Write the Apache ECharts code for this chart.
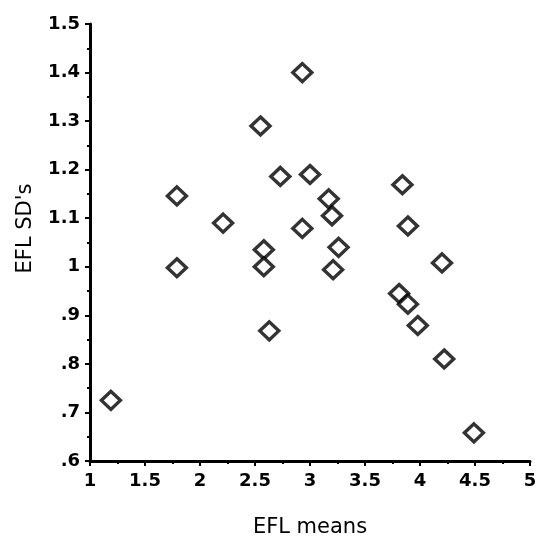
<!DOCTYPE html>
<html>
<head>
<meta charset="utf-8">
<script src="https://cdn.jsdelivr.net/npm/echarts@6/dist/echarts.min.js"></script>
<style>
  html, body { margin: 0; padding: 0; background: #fff; }
  #chart { width: 539px; height: 539px; }
</style>
</head>
<body>
<div id="chart"></div>
<script>
// EFL means (x) against EFL standard deviations (y)
const eflMeans = [1.19, 1.79, 1.79, 2.21, 2.55, 2.58, 2.58, 2.63, 2.73, 2.93, 2.93, 3.00,
                  3.17, 3.20, 3.26, 3.21, 3.84, 3.89, 3.81, 3.89, 3.98, 4.20, 4.22, 4.49];
const eflSDs   = [0.725, 1.146, 0.998, 1.090, 1.290, 1.035, 1.000, 0.868, 1.186, 1.400, 1.079, 1.190,
                  1.140, 1.105, 1.040, 0.994, 1.169, 1.084, 0.945, 0.923, 0.879, 1.008, 0.810, 0.658];

const xTickLabels = ['1', '1.5', '2', '2.5', '3', '3.5', '4', '4.5', '5'];
const yTickLabels = ['.6', '.7', '.8', '.9', '1', '1.1', '1.2', '1.3', '1.4', '1.5'];

const points = eflMeans.map((m, i) => [m, eflSDs[i]]);

const font = 'DejaVu Sans, Verdana, sans-serif';

const chart = echarts.init(document.getElementById('chart'), null, { renderer: 'canvas' });
chart.setOption({
  animation: false,
  backgroundColor: '#fff',
  grid: { left: 90, right: 9, top: 24, bottom: 78, containLabel: false, outerBoundsMode: 'none' },
  xAxis: {
    type: 'value',
    min: 1, max: 5, interval: 0.5,
    name: 'EFL means',
    nameLocation: 'middle',
    nameGap: 56,
    nameTextStyle: { fontFamily: font, fontSize: 21, color: '#000' },
    axisLine: { show: true, onZero: false, lineStyle: { color: '#000', width: 3 } },
    axisTick: { show: true, inside: false, length: 5, lineStyle: { color: '#000', width: 2 } },
    minorTick: { show: true, splitNumber: 2, length: 3, lineStyle: { color: '#000', width: 2 } },
    splitLine: { show: false },
    axisLabel: {
      margin: 11, fontFamily: font, fontSize: 18, fontWeight: 'bold', color: '#000',
      formatter: v => xTickLabels[Math.round((v - 1) / 0.5)]
    }
  },
  yAxis: {
    type: 'value',
    min: 0.6, max: 1.5, interval: 0.1,
    name: "EFL SD's",
    nameLocation: 'middle',
    nameGap: 54,
    nameRotate: 90,
    nameTextStyle: { fontFamily: font, fontSize: 21, color: '#000', padding: [0, 0, 0, 28] },
    axisLine: { show: true, onZero: false, lineStyle: { color: '#000', width: 3 } },
    axisTick: { show: true, inside: false, length: 5, lineStyle: { color: '#000', width: 2 } },
    minorTick: { show: true, splitNumber: 2, length: 3, lineStyle: { color: '#000', width: 2 } },
    splitLine: { show: false },
    axisLabel: {
      margin: 10, fontFamily: font, fontSize: 18, fontWeight: 'bold', color: '#000',
      formatter: v => yTickLabels[Math.round((v - 0.6) / 0.1)]
    }
  },
  series: [{
    type: 'scatter',
    data: points,
    symbol: 'diamond',
    symbolSize: [19, 18],
    itemStyle: { color: '#fff', borderColor: '#000', borderWidth: 3.4 },
    z: 3
  }]
});
</script>
</body>
</html>
